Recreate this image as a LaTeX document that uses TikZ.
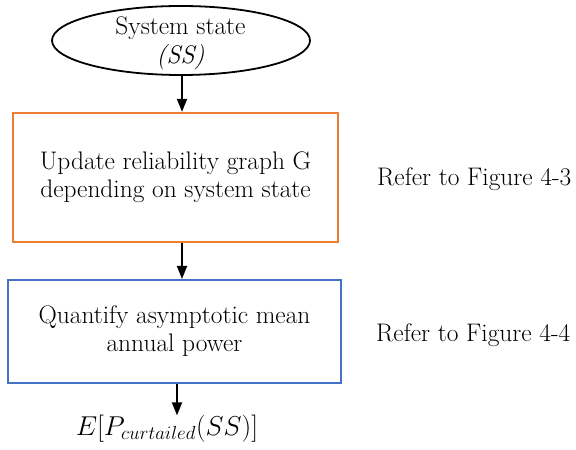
\documentclass[tikz,border=0pt]{standalone}
\usetikzlibrary{shapes.geometric,arrows.meta}
\definecolor{boxorange}{HTML}{ED7D31}
\definecolor{boxblue}{HTML}{4472C4}
\begin{document}
\begin{tikzpicture}[x=1bp,y=-1bp,
  txt/.style={font=\fontsize{25.5}{28}\selectfont, align=center},
  arr/.style={line width=1.8bp, -{Triangle[width=10bp,length=13bp]}},
  stepbox/.style={draw, line width=2bp, rectangle, inner sep=0pt, txt}]
\useasboundingbox (0,0) rectangle (576,450);
\node[ellipse, draw, line width=1.8bp, minimum width=258bp, minimum height=69bp, inner sep=0pt] (ss) at (181,40.5) {};
\node[txt, font=\fontsize{25.5}{30}\selectfont, anchor=base, inner sep=0pt] (sslabel) at (180.5,64) {System state\\\textit{(SS)}};
\node[stepbox, draw=boxorange, line width=2.3bp, minimum width=325bp, minimum height=129bp] (upd) at (175.5,177.5)
  {Update reliability graph G\\depending on system state};
\node[stepbox, draw=boxblue, minimum width=333bp, minimum height=103bp] (quant) at (174.5,331.5)
  {Quantify asymptotic mean\\annual power};
\node[txt, anchor=base west, inner sep=0pt] (ref3) at (377,186) {Refer to Figure 4-3};
\node[txt, anchor=base west, inner sep=0pt] (ref4) at (376,341) {Refer to Figure 4-4};
\node[txt, anchor=base, inner sep=0pt] (out) at (167,435) {\scalebox{1.1}{$E[P_{curtailed}(SS)]$}};
\coordinate (a1) at (182,0);
\coordinate (a3) at (177,0);
\draw[arr] (ss.south -| a1) -- (upd.north -| a1);
\draw[arr] (upd.south -| a1) -- (quant.north -| a1);
\draw[arr] (quant.south -| a3) -- ([yshift=-1bp]out.north -| a3);
\end{tikzpicture}
\end{document}
